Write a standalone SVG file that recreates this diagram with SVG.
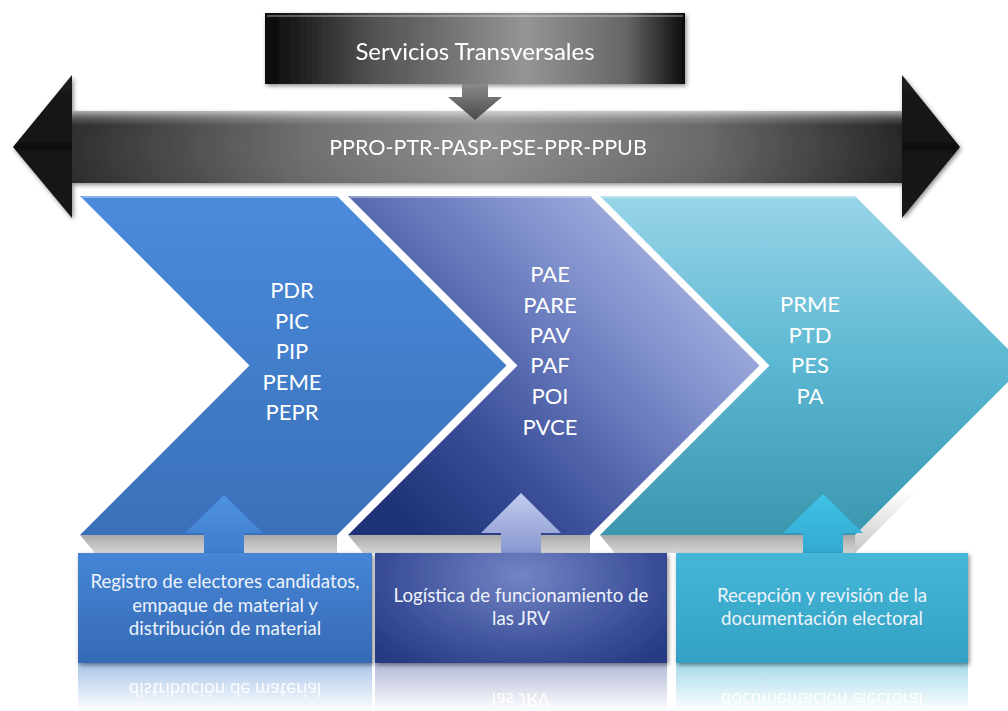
<svg xmlns="http://www.w3.org/2000/svg" width="1008" height="711" viewBox="0 0 1008 711">
<defs>
<style>
.t{font-family:Lato,"Noto Sans","Liberation Sans",sans-serif;fill:#ffffff;text-anchor:middle}
.big{font-size:22px}
.hd{font-size:24px}
.mid{font-size:21.5px}
.bx{font-size:18.7px;fill:#eef3fb}
.rf{font-size:18.7px;fill:#ffffff;opacity:.9}
.hl{fill:none;stroke:#ffffff;stroke-opacity:.35;stroke-width:2}
</style>
<filter id="sh" x="-10%" y="-10%" width="120%" height="130%">
<feDropShadow dx="1.5" dy="2" stdDeviation="2" flood-color="#000" flood-opacity=".45"/>
</filter>
<linearGradient id="gTop" x1="265" y1="0" x2="685" y2="0" gradientUnits="userSpaceOnUse">
<stop offset="0" stop-color="#080808"/><stop offset=".25" stop-color="#505050"/><stop offset=".62" stop-color="#959595"/><stop offset=".86" stop-color="#666"/><stop offset="1" stop-color="#0c0c0c"/>
</linearGradient>
<linearGradient id="gShaft" x1="72" y1="0" x2="902" y2="0" gradientUnits="userSpaceOnUse">
<stop offset="0" stop-color="#2e2e2e"/><stop offset=".28" stop-color="#6f6f6f"/><stop offset=".5" stop-color="#8e8e8e"/><stop offset=".76" stop-color="#6a6a6a"/><stop offset="1" stop-color="#262626"/>
</linearGradient>
<linearGradient id="gGloss" x1="0" y1="111" x2="0" y2="183" gradientUnits="userSpaceOnUse">
<stop offset="0" stop-color="#fff" stop-opacity=".6"/><stop offset=".1" stop-color="#fff" stop-opacity=".2"/><stop offset=".2" stop-color="#fff" stop-opacity="0"/><stop offset="1" stop-color="#000" stop-opacity=".05"/>
</linearGradient>
<linearGradient id="gHead" x1="0" y1="75" x2="0" y2="218" gradientUnits="userSpaceOnUse">
<stop offset="0" stop-color="#1c1c1c"/><stop offset=".5" stop-color="#111"/><stop offset="1" stop-color="#1a1a1a"/>
</linearGradient>
<linearGradient id="gDown" x1="0" y1="84" x2="0" y2="120" gradientUnits="userSpaceOnUse">
<stop offset="0" stop-color="#8a8a8a"/><stop offset="1" stop-color="#4a4a4a"/>
</linearGradient>
<linearGradient id="gC1" x1="0" y1="196" x2="0" y2="535" gradientUnits="userSpaceOnUse">
<stop offset="0" stop-color="#4a8bdb"/><stop offset="1" stop-color="#3a70b9"/>
</linearGradient>
<linearGradient id="gC2" x1="760" y1="196" x2="420" y2="535" gradientUnits="userSpaceOnUse">
<stop offset="0" stop-color="#c4cdef"/><stop offset=".4" stop-color="#7e8fcc"/><stop offset=".75" stop-color="#3c509b"/><stop offset="1" stop-color="#1e3278"/>
</linearGradient>
<linearGradient id="gC3" x1="0" y1="196" x2="0" y2="535" gradientUnits="userSpaceOnUse">
<stop offset="0" stop-color="#98d4e8"/><stop offset=".5" stop-color="#5bb7d1"/><stop offset="1" stop-color="#3b97b0"/>
</linearGradient>
<linearGradient id="gBand" x1="0" y1="535" x2="0" y2="553" gradientUnits="userSpaceOnUse">
<stop offset="0" stop-color="#a9a9a9"/><stop offset="1" stop-color="#d6d6d6"/>
</linearGradient>
<linearGradient id="gSliver" x1="0" y1="490" x2="0" y2="553" gradientUnits="userSpaceOnUse">
<stop offset="0" stop-color="#d0d0d0" stop-opacity="0"/><stop offset="1" stop-color="#c4c4c4"/>
</linearGradient>
<linearGradient id="gB1" x1="0" y1="553" x2="0" y2="663" gradientUnits="userSpaceOnUse">
<stop offset="0" stop-color="#4686d6"/><stop offset="1" stop-color="#3569b4"/>
</linearGradient>
<radialGradient id="gB2" cx="521" cy="575" r="190" gradientUnits="userSpaceOnUse" gradientTransform="translate(0 575) scale(1 .6) translate(0 -575)">
<stop offset="0" stop-color="#7384c4"/><stop offset=".6" stop-color="#42569f"/><stop offset="1" stop-color="#263a84"/>
</radialGradient>
<linearGradient id="gB3" x1="0" y1="553" x2="0" y2="663" gradientUnits="userSpaceOnUse">
<stop offset="0" stop-color="#44b7d8"/><stop offset="1" stop-color="#33a1c3"/>
</linearGradient>
<linearGradient id="gA1" x1="0" y1="495" x2="0" y2="553" gradientUnits="userSpaceOnUse">
<stop offset="0" stop-color="#4f92e0"/><stop offset="1" stop-color="#3f7ccc"/>
</linearGradient>
<linearGradient id="gA2" x1="0" y1="493" x2="0" y2="553" gradientUnits="userSpaceOnUse">
<stop offset="0" stop-color="#c3ccef"/><stop offset="1" stop-color="#8898d0"/>
</linearGradient>
<linearGradient id="gA3" x1="0" y1="494" x2="0" y2="553" gradientUnits="userSpaceOnUse">
<stop offset="0" stop-color="#3ec2e8"/><stop offset="1" stop-color="#33a9d0"/>
</linearGradient>
<linearGradient id="gR1" x1="0" y1="663" x2="0" y2="711" gradientUnits="userSpaceOnUse">
<stop offset="0" stop-color="#3f7ccc" stop-opacity=".45"/><stop offset="1" stop-color="#3f7ccc" stop-opacity="0"/>
</linearGradient>
<linearGradient id="gR2" x1="0" y1="663" x2="0" y2="711" gradientUnits="userSpaceOnUse">
<stop offset="0" stop-color="#3d5199" stop-opacity=".4"/><stop offset="1" stop-color="#3d5199" stop-opacity="0"/>
</linearGradient>
<linearGradient id="gR3" x1="0" y1="663" x2="0" y2="711" gradientUnits="userSpaceOnUse">
<stop offset="0" stop-color="#3aaed0" stop-opacity=".45"/><stop offset="1" stop-color="#3aaed0" stop-opacity="0"/>
</linearGradient>
</defs>
<rect width="1008" height="711" fill="#ffffff"/>

<g id="transversal-arrow" filter="url(#sh)">
<polygon points="13,147 72,75 72,111 902,111 902,75 960,147 902,218 902,183 72,183 72,218" fill="url(#gHead)"/>
<rect x="72" y="111" width="830" height="72" fill="url(#gShaft)"/>
<rect x="72" y="111" width="830" height="72" fill="url(#gGloss)"/>
<text class="t mid" x="488" y="155">PPRO-PTR-PASP-PSE-PPR-PPUB</text>
</g>

<g id="servicios-transversales" filter="url(#sh)">
<rect x="265" y="13" width="420" height="71" fill="url(#gTop)"/>
<line x1="267" y1="16" x2="683" y2="16" stroke="#fff" stroke-opacity=".3" stroke-width="2"/>
<text class="t hd" x="475" y="60">Servicios Transversales</text>
</g>

<g id="bands">
<polygon points="80,535 337,535 337,553 95,553" fill="url(#gBand)"/>
<polygon points="348,535 590,535 590,553 363,553" fill="url(#gBand)"/>
<polygon points="600,535 855,535 1024,365.5 1024,383.5 855,553 615,553" fill="url(#gSliver)"/>
<polygon points="600,535 855,535 855,553 615,553" fill="url(#gBand)"/>
</g>

<g id="fase-1">
<polygon points="80,196 337,196 506.5,365.5 337,535 80,535 249.5,365.5" fill="url(#gC1)"/>
<polyline class="hl" points="82,197 337,197"/>
<text class="t big" x="292" y="298">PDR</text>
<text class="t big" x="292" y="329">PIC</text>
<text class="t big" x="292" y="359">PIP</text>
<text class="t big" x="292" y="390">PEME</text>
<text class="t big" x="292" y="420">PEPR</text>
</g>

<g id="fase-2">
<polygon points="348,196 590,196 759.5,365.5 590,535 348,535 517.5,365.5" fill="url(#gC2)"/>
<polyline class="hl" points="350,197 590,197"/>
<text class="t big" x="550" y="282">PAE</text>
<text class="t big" x="550" y="313">PARE</text>
<text class="t big" x="550" y="343">PAV</text>
<text class="t big" x="550" y="373">PAF</text>
<text class="t big" x="550" y="404">POI</text>
<text class="t big" x="550" y="435">PVCE</text>
</g>

<g id="fase-3">
<polygon points="600,196 855,196 1024.5,365.5 855,535 600,535 769.5,365.5" fill="url(#gC3)"/>
<polyline class="hl" points="602,197 855,197"/>
<text class="t big" x="810" y="312">PRME</text>
<text class="t big" x="810" y="343">PTD</text>
<text class="t big" x="810" y="373">PES</text>
<text class="t big" x="810" y="404">PA</text>
</g>

<g id="connectors">
<polygon points="462,84 488,84 488,97 502,97 475,120 448,97 462,97" fill="url(#gDown)"/>
<polygon points="204,553 204,533 185,533 224,495 263,533 244,533 244,553" fill="url(#gA1)"/>
<polygon points="501,553 501,533 481,533 521,493 561,533 541,533 541,553" fill="url(#gA2)"/>
<polygon points="803,553 803,533 783,533 823,494 863,533 843,533 843,553" fill="url(#gA3)"/>
</g>

<g id="reflections">
<rect x="78" y="663" width="294" height="48" fill="url(#gR1)"/>
<rect x="375" y="663" width="292" height="48" fill="url(#gR2)"/>
<rect x="676" y="663" width="292" height="48" fill="url(#gR3)"/>
<g transform="matrix(1,0,0,-1,0,1318)">
<text class="t rf" x="225" y="635">distribución de material</text>
<text class="t rf" x="521" y="625">las JRV</text>
<text class="t rf" x="822" y="625">documentación electoral</text>
</g>
</g>

<g id="actividad-1">
<rect x="78" y="553" width="294" height="110" fill="url(#gB1)" filter="url(#sh)"/>
<text class="t bx" x="225" y="588">Registro de electores candidatos,</text>
<text class="t bx" x="225" y="612">empaque de material y</text>
<text class="t bx" x="225" y="635">distribución de material</text>
</g>

<g id="actividad-2">
<rect x="375" y="553" width="292" height="110" fill="url(#gB2)" filter="url(#sh)"/>
<text class="t bx" x="521" y="602">Logística de funcionamiento de</text>
<text class="t bx" x="521" y="625">las JRV</text>
</g>

<g id="actividad-3">
<rect x="676" y="553" width="292" height="110" fill="url(#gB3)" filter="url(#sh)"/>
<text class="t bx" x="822" y="602">Recepción y revisión de la</text>
<text class="t bx" x="822" y="625">documentación electoral</text>
</g>
</svg>
